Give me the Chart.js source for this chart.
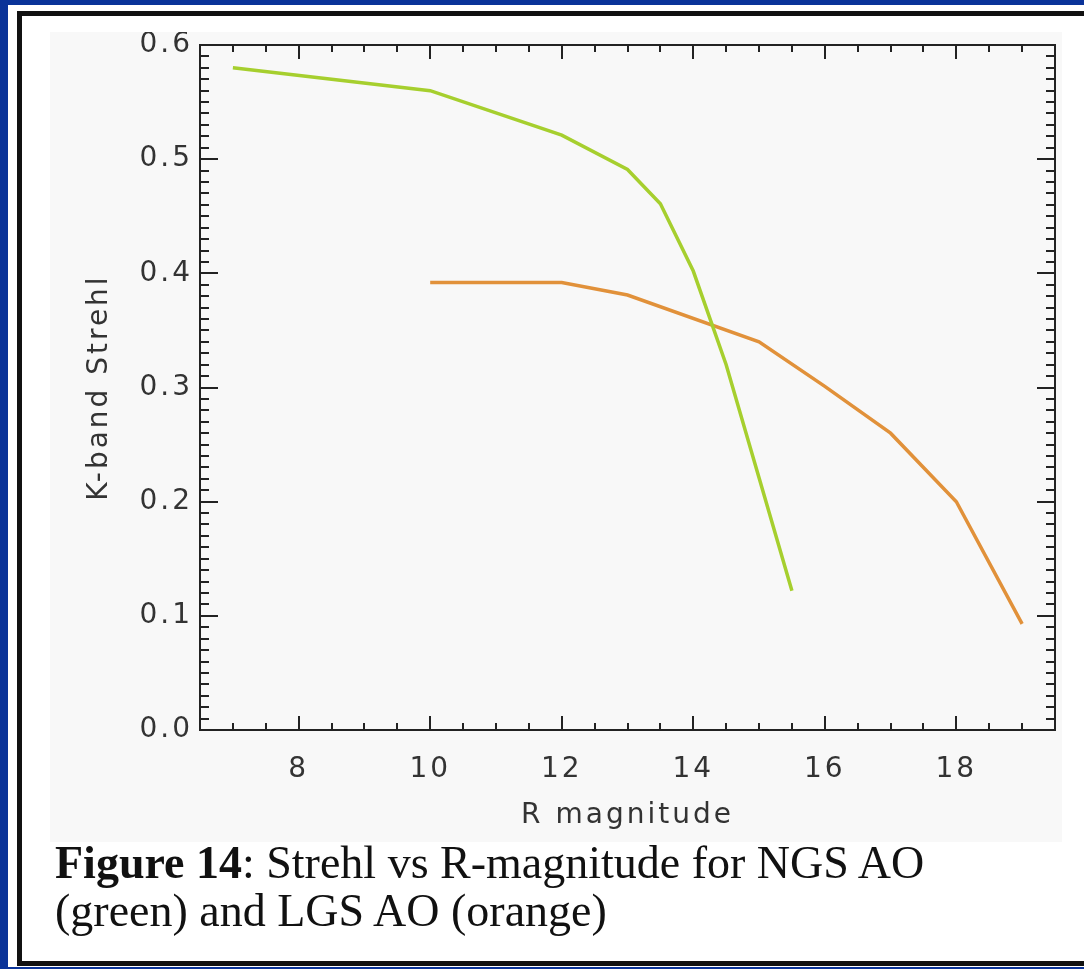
<!DOCTYPE html>
<html>
<head>
<meta charset="utf-8">
<script src="https://cdn.jsdelivr.net/npm/chart.js@4.4.1/dist/chart.umd.min.js"></script>
<style>
  html, body { margin: 0; padding: 0; }
  body { width: 1084px; height: 969px; background: #0a3399; position: relative; overflow: hidden; }
  #page { position: absolute; left: 8px; top: 5px; width: 1090px; height: 962px; background: #ffffff; }
  #frame { position: absolute; left: 17px; top: 11px; width: 1090px; height: 945px; border-left: 5px solid #111; border-top: 5px solid #111; border-bottom: 5px solid #111; }
  #plotbg { position: absolute; left: 50px; top: 32px; width: 1012px; height: 810px; background: #f8f8f8; }
  #plotbg canvas { position: absolute; left: 0; top: 0; }
  #caption { position: absolute; left: 55px; top: 839px; font-family: "Liberation Serif", "Times New Roman", serif; font-size: 46px; line-height: 48px; color: #111; white-space: nowrap; }
  #caption b { font-weight: bold; }
</style>
</head>
<body>
<div id="page"></div>
<div id="frame"></div>
<div id="plotbg"><canvas id="c" width="1012" height="810"></canvas></div>
<div id="caption"><b>Figure 14</b>: Strehl vs R-magnitude for NGS AO<br>(green) and LGS AO (orange)</div>
<script>
// ---- data ----
const ngsMag    = [7, 10, 12, 13, 13.5, 14, 14.5, 15, 15.5];
const ngsStrehl = [0.580, 0.560, 0.521, 0.491, 0.461, 0.402, 0.320, 0.221, 0.122];
const lgsMag    = [10, 12, 13, 15, 16, 17, 18, 19];
const lgsStrehl = [0.392, 0.392, 0.381, 0.340, 0.301, 0.260, 0.200, 0.093];

const xTickValues = [8, 10, 12, 14, 16, 18];
const yTickValues = [0.0, 0.1, 0.2, 0.3, 0.4, 0.5, 0.6];
const xRange = [6.5, 19.5];
const yRange = [0.0, 0.6];
const xMinorStep = 0.5;
const yMinorStep = 0.01;

const xTitle = 'R magnitude';
const yTitle = 'K-band Strehl';

const toPoints = (xs, ys) => xs.map((x, i) => ({ x: x, y: ys[i] }));

const AXIS_COLOR = '#222';
const TEXT_COLOR = '#333';
const FONT = '"DejaVu Sans", sans-serif';

// wide letter spacing to mimic the IDL vector font
const spacing = {
  id: 'spacing',
  beforeDraw(chart) { chart.ctx.letterSpacing = '3px'; }
};

// draw IDL-style box with inward ticks on all four sides
const idlBox = {
  id: 'idlBox',
  afterDatasetsDraw(chart) {
    const { ctx, chartArea: a, scales: { x, y } } = chart;
    ctx.save();
    ctx.strokeStyle = AXIS_COLOR;
    ctx.lineWidth = 2;
    ctx.strokeRect(a.left, a.top, a.right - a.left, a.bottom - a.top);
    ctx.beginPath();
    const nx = Math.round((xRange[1] - xRange[0]) / xMinorStep);
    for (let k = 0; k <= nx; k++) {
      const v = xRange[0] + k * xMinorStep;
      const isMajor = xTickValues.some(t => Math.abs(t - v) < 1e-6);
      const len = isMajor ? 14 : 7;
      const px = Math.round(x.getPixelForValue(v));
      ctx.moveTo(px, a.bottom); ctx.lineTo(px, a.bottom - len);
      ctx.moveTo(px, a.top); ctx.lineTo(px, a.top + len);
    }
    const ny = Math.round((yRange[1] - yRange[0]) / yMinorStep);
    for (let k = 0; k <= ny; k++) {
      const v = yRange[0] + k * yMinorStep;
      const isMajor = yTickValues.some(t => Math.abs(t - v) < 1e-6);
      const len = isMajor ? 18 : 9;
      const py = Math.round(y.getPixelForValue(v));
      ctx.moveTo(a.left, py); ctx.lineTo(a.left + len, py);
      ctx.moveTo(a.right, py); ctx.lineTo(a.right - len, py);
    }
    ctx.stroke();
    ctx.restore();
  }
};

new Chart(document.getElementById('c'), {
  type: 'line',
  data: {
    datasets: [
      {
        label: 'NGS AO',
        data: toPoints(ngsMag, ngsStrehl),
        borderColor: '#a6cf2e',
        borderWidth: 3.5,
        pointRadius: 0,
        tension: 0,
        fill: false
      },
      {
        label: 'LGS AO',
        data: toPoints(lgsMag, lgsStrehl),
        borderColor: '#e1913a',
        borderWidth: 3.5,
        pointRadius: 0,
        tension: 0,
        fill: false
      }
    ]
  },
  options: {
    responsive: false,
    animation: false,
    events: [],
    layout: { padding: { top: 13, right: 7, left: 0, bottom: 0 } },
    plugins: { legend: { display: false }, tooltip: { enabled: false }, title: { display: false } },
    scales: {
      x: {
        type: 'linear',
        position: 'bottom',
        min: xRange[0],
        max: xRange[1],
        afterBuildTicks: (s) => { s.ticks = xTickValues.map(v => ({ value: v })); },
        afterFit: (s) => { s.height = 112; s.paddingLeft = 0; s.paddingRight = 0; },
        grid: { display: false, drawTicks: false },
        border: { display: false },
        ticks: {
          color: TEXT_COLOR,
          font: { family: FONT, size: 28 },
          padding: 23,
          maxRotation: 0,
          autoSkip: false,
          callback: (v) => String(v)
        },
        title: {
          display: true,
          text: xTitle,
          color: TEXT_COLOR,
          font: { family: FONT, size: 28 },
          padding: { top: 0, bottom: 9 }
        }
      },
      y: {
        type: 'linear',
        position: 'left',
        min: yRange[0],
        max: yRange[1],
        afterBuildTicks: (s) => { s.ticks = yTickValues.map(v => ({ value: v })); },
        afterFit: (s) => { s.width = 150; s.paddingTop = 0; s.paddingBottom = 0; },
        grid: { display: false, drawTicks: false },
        border: { display: false },
        ticks: {
          color: TEXT_COLOR,
          font: { family: FONT, size: 28 },
          padding: 7,
          autoSkip: false,
          callback: (v) => Number(v).toFixed(1)
        },
        title: {
          display: true,
          text: yTitle,
          color: TEXT_COLOR,
          font: { family: FONT, size: 28 },
          padding: { top: 33, bottom: 0 }
        }
      }
    }
  },
  plugins: [spacing, idlBox]
});
</script>
</body>
</html>
